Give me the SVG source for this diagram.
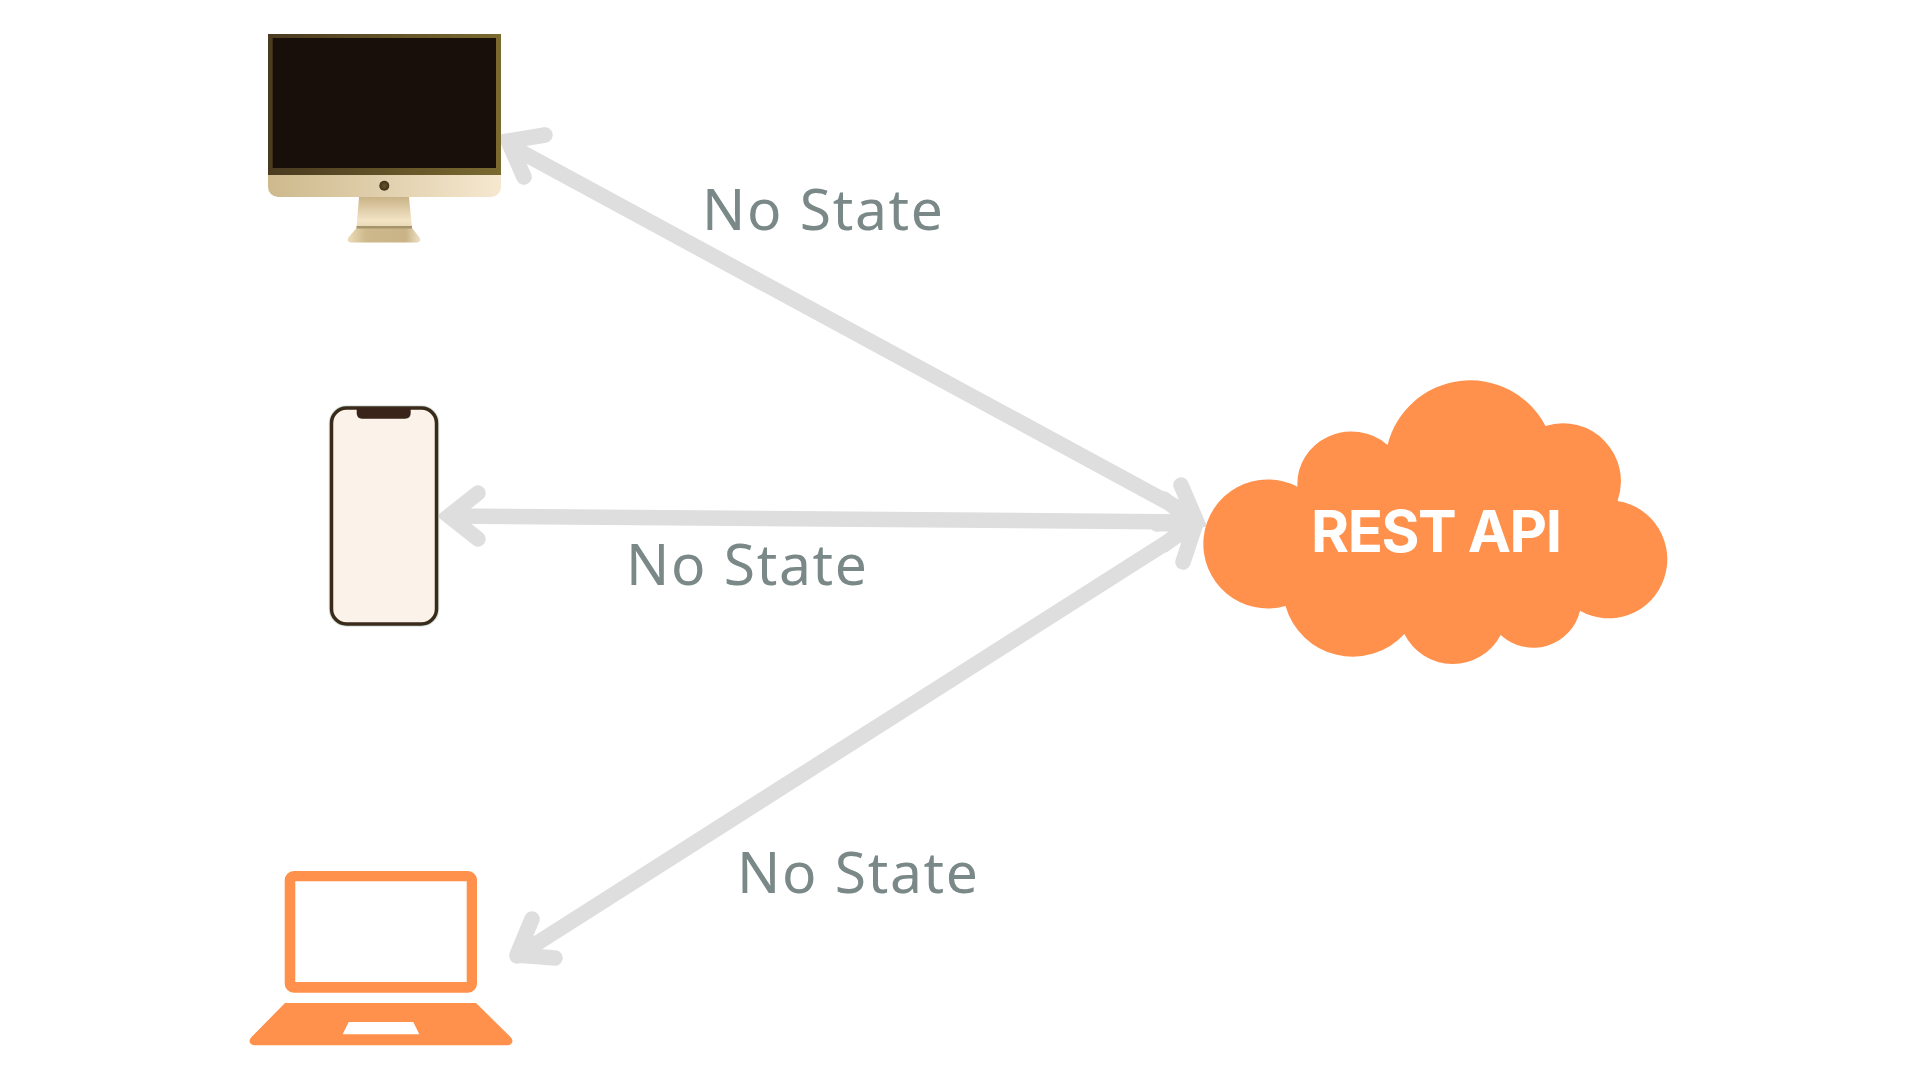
<svg xmlns="http://www.w3.org/2000/svg" width="1920" height="1080" viewBox="0 0 1920 1080">
<style>
.arrow{fill:none;stroke:#dedede;stroke-width:15.500;stroke-linecap:round;stroke-linejoin:miter;stroke-miterlimit:6}
.round{stroke-linejoin:round}
.lbl{font-family:"Noto Sans","Open Sans",sans-serif;font-size:57px;font-weight:400;fill:#7a8888}
.orange{fill:#ff914d}
</style>
<defs>
<linearGradient id="bezel" x1="0" x2="1" y1="0" y2="0"><stop offset="0" stop-color="#4a3a20"/><stop offset="1" stop-color="#7a6a30"/></linearGradient>
<linearGradient id="chin" x1="0" x2="1" y1="0" y2="0"><stop offset="0" stop-color="#cdb98c"/><stop offset="1" stop-color="#f6e8d0"/></linearGradient>
<linearGradient id="stand" x1="0" x2="0" y1="0" y2="1"><stop offset="0" stop-color="#c9b387"/><stop offset="0.75" stop-color="#f3e4c6"/><stop offset="1" stop-color="#e6d6b2"/></linearGradient>
<linearGradient id="foot" x1="0" x2="1" y1="0" y2="0"><stop offset="0" stop-color="#ecdcb9"/><stop offset="0.25" stop-color="#cdb98c"/><stop offset="0.8" stop-color="#c9b387"/><stop offset="1" stop-color="#efe2c6"/></linearGradient>
<radialGradient id="cam"><stop offset="0" stop-color="#6a5526"/><stop offset="1" stop-color="#3f321a"/></radialGradient>
</defs>
<g id="connectors">
<path class="arrow" d="M512,147L1191,515M545,135L508,141L524,177M1181,485L1196,520L1157,524"/>
<path class="arrow" d="M450,516L1190,522M478,493L449,516L478,539M1164,499L1193,522L1164,545"/>
<path class="arrow round" d="M517,956L1191,527M532,919L517,955L555,958M1183,562L1195,526L1157,523"/>
</g>
<g id="monitor">
<rect x="268" y="34" width="233" height="141" fill="url(#bezel)"/>
<rect x="272.700" y="38" width="223.300" height="130" fill="#180e0a"/>
<path d="M268,175H501V187a10,10 0 0 1 -10,10H278a10,10 0 0 1 -10,-10Z" fill="url(#chin)"/>
<circle cx="384.300" cy="185.700" r="5" fill="url(#cam)"/>
<path d="M359,197H409L412,228H356.500Z" fill="url(#stand)"/>
<path d="M356.500,228H412L420,238Q421.500,242 417,242.500H351Q346.500,242 348,238Z" fill="url(#foot)"/>
<rect x="356.500" y="226" width="55.500" height="2.500" fill="#a8946c"/>
</g>
<g id="phone">
<rect x="329.500" y="406" width="109" height="220" rx="17" fill="#fbf3ea" stroke="#d5e2da" stroke-width="1.500"/>
<rect x="331.500" y="408" width="105" height="216" rx="15" fill="#fbf3ea" stroke="#3a2a1a" stroke-width="3.500"/>
<path d="M356.700,408H410.700V413Q410.700,418.700 405,418.700H362Q356.700,418.700 356.700,413Z" fill="#3a2318"/>
</g>
<g id="laptop">
<path class="orange" fill-rule="evenodd" d="M293.700,871H468a9,9 0 0 1 9,9V983.700a9,9 0 0 1 -9,9H293.700a9,9 0 0 1 -9,-9V880a9,9 0 0 1 9,-9ZM295.300,881.300V982H466.700V881.300Z"/>
<path class="orange" fill-rule="evenodd" d="M285,1003H476L510,1036.500Q514.500,1041 511,1044Q510,1045.300 507,1045.300H255Q252,1045.300 251,1044Q247.500,1041 252,1036.500ZM348.700,1022L342.700,1034.300H419.300L413.300,1022Z"/>
</g>
<g id="rest-api">
<path class="orange" d="M1285.500,606A64.500,64.500 0 1 1 1297.500,486.700A54,52 0 0 1 1387.600,445A85,85 0 0 1 1545.500,426A58,58 0 0 1 1617.500,501A58.500,59 0 1 1 1580,610.700A48,48 0 0 1 1500.700,635A54,54 0 0 1 1404.400,634A70,70 0 0 1 1285.500,606Z"/>
<text x="1311" y="552" textLength="251" lengthAdjust="spacing" font-family="Inter,'Liberation Sans',sans-serif" font-size="58" font-weight="700" fill="#ffffff">REST API</text>
</g>
<g id="labels">
<text class="lbl" x="702" y="230" textLength="241" lengthAdjust="spacing">No State</text>
<text class="lbl" x="626" y="585" textLength="241" lengthAdjust="spacing">No State</text>
<text class="lbl" x="737" y="893" textLength="241" lengthAdjust="spacing">No State</text>
</g>
</svg>
